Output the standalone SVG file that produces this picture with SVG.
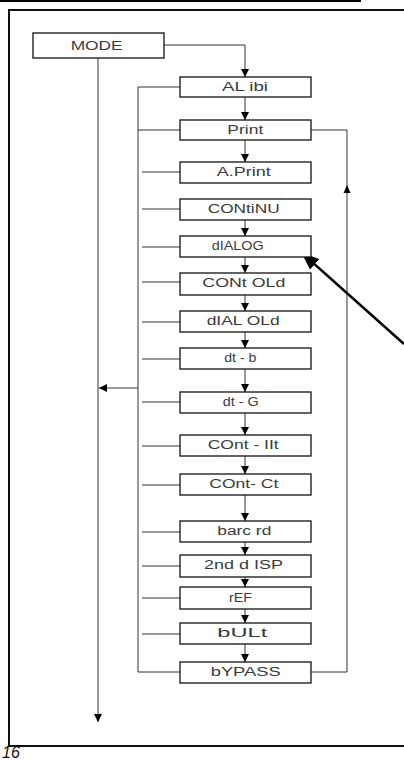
<svg xmlns="http://www.w3.org/2000/svg" width="404" height="760" viewBox="0 0 404 760">
<defs>
<marker id="ah" markerUnits="userSpaceOnUse" markerWidth="8" markerHeight="8" refX="8" refY="4" orient="auto">
<path d="M0,0 L8,4 L0,8 z" fill="#000"/>
</marker>
<marker id="big" markerUnits="userSpaceOnUse" markerWidth="18" markerHeight="14" refX="17" refY="7" orient="auto">
<path d="M0,0 L18,7 L0,14 z" fill="#000"/>
</marker>
</defs>
<style>
.box{fill:#fff;stroke:#111;stroke-width:1.3}
.t{font-family:"Liberation Sans",Arial,sans-serif;font-size:12.5px;fill:#3a3a3a}
.s{font-size:12px}
.c{fill:none;stroke:#333;stroke-width:1}
.frame{fill:none;stroke:#111;stroke-width:2}
</style>
<rect width="404" height="760" fill="#fff"/>
<!-- frame -->
<line x1="0" y1="1" x2="361" y2="1" stroke="#000" stroke-width="2"/>
<path class="frame" d="M404,10 H9 V746 H404"/>
<text x="2" y="758" font-family="'Liberation Sans',Arial,sans-serif" font-size="16" font-style="italic" fill="#111">16</text>

<g id="connectors">
<path class="c" d="M164,45 H245 V77" marker-end="url(#ah)"/>
<path class="c" d="M98,58 V722" marker-end="url(#ah)"/>
<path class="c" d="M180,87 H138 V672 H180"/>
<path class="c" d="M180,130 H138"/>
<path class="c" d="M138,388 H99" marker-end="url(#ah)"/>
<path class="c" d="M311,130 H347 V672 H311"/>
<path d="M343.5,193 L347,185 L350.5,193 z" fill="#000"/>
<path class="c" d="M142,172 H180 M142,209 H180 M142,247 H180 M142,282 H180 M142,322 H180 M142,359 H180 M142,402 H180 M142,446 H180 M142,485 H180 M142,532 H180 M142,566 H180 M142,598 H180 M142,634 H180"/>
<path class="c" d="M245,97 V120" marker-end="url(#ah)"/>
<path class="c" d="M245,140 V162" marker-end="url(#ah)"/>
<path class="c" d="M245,220 V236" marker-end="url(#ah)"/>
<path class="c" d="M245,257 V273" marker-end="url(#ah)"/>
<path class="c" d="M245,295 V311" marker-end="url(#ah)"/>
<path class="c" d="M245,332 V348" marker-end="url(#ah)"/>
<path class="c" d="M245,369 V392" marker-end="url(#ah)"/>
<path class="c" d="M245,413 V435" marker-end="url(#ah)"/>
<path class="c" d="M245,456 V474" marker-end="url(#ah)"/>
<path class="c" d="M245,495 V521" marker-end="url(#ah)"/>
<path class="c" d="M245,542 V555" marker-end="url(#ah)"/>
<path class="c" d="M245,577 V587" marker-end="url(#ah)"/>
<path class="c" d="M245,609 V623" marker-end="url(#ah)"/>
<path class="c" d="M245,644 V662" marker-end="url(#ah)"/>
<line x1="404" y1="344" x2="302" y2="253" stroke="#000" stroke-width="2.5" marker-end="url(#big)"/>
</g>

<g id="mode"><rect class="box" x="33" y="33" width="131" height="25"/><text class="t" x="70.7" y="50" textLength="52" lengthAdjust="spacingAndGlyphs">MODE</text></g>
<g id="alibi"><rect class="box" x="180" y="77" width="131" height="20"/><text class="t" x="222" y="91" textLength="46" lengthAdjust="spacingAndGlyphs">AL ibi</text></g>
<g id="print"><rect class="box" x="180" y="120" width="131" height="20"/><text class="t" x="227.3" y="134" textLength="36" lengthAdjust="spacingAndGlyphs">Print</text></g>
<g id="aprint"><rect class="box" x="180" y="162" width="131" height="21"/><text class="t" x="216.7" y="176" textLength="54" lengthAdjust="spacingAndGlyphs">A.Print</text></g>
<g id="continu"><rect class="box" x="180" y="199" width="131" height="21"/><text class="t" x="207.7" y="213" textLength="72" lengthAdjust="spacingAndGlyphs">CONtiNU</text></g>
<g id="dialog"><rect class="box" x="180" y="236" width="131" height="21"/><text class="t" x="211.7" y="250" textLength="52" lengthAdjust="spacingAndGlyphs">dIALOG</text></g>
<g id="contold"><rect class="box" x="180" y="273" width="131" height="22"/><text class="t" x="202.3" y="287" textLength="83" lengthAdjust="spacingAndGlyphs">CONt OLd</text></g>
<g id="dialold"><rect class="box" x="180" y="311" width="131" height="21"/><text class="t" x="206.7" y="325" textLength="73" lengthAdjust="spacingAndGlyphs">dIAL OLd</text></g>
<g id="dtb"><rect class="box" x="180" y="348" width="131" height="21"/><text class="t s" x="224.3" y="362" textLength="32" lengthAdjust="spacingAndGlyphs">dt - b</text></g>
<g id="dtg"><rect class="box" x="180" y="392" width="131" height="21"/><text class="t s" x="222.7" y="406" textLength="36" lengthAdjust="spacingAndGlyphs">dt - G</text></g>
<g id="contiit"><rect class="box" x="180" y="435" width="131" height="21"/><text class="t" x="207.7" y="449" textLength="71" lengthAdjust="spacingAndGlyphs">COnt - IIt</text></g>
<g id="contct"><rect class="box" x="180" y="474" width="131" height="21"/><text class="t" x="209.3" y="488" textLength="69" lengthAdjust="spacingAndGlyphs">COnt- Ct</text></g>
<g id="barcrd"><rect class="box" x="180" y="521" width="131" height="21"/><text class="t" x="217.3" y="535" textLength="54" lengthAdjust="spacingAndGlyphs">barc rd</text></g>
<g id="2nddisp"><rect class="box" x="180" y="555" width="131" height="22"/><text class="t" x="204" y="569" textLength="79" lengthAdjust="spacingAndGlyphs">2nd d ISP</text></g>
<g id="ref"><rect class="box" x="180" y="587" width="131" height="22"/><text class="t s" x="229" y="602" textLength="23" lengthAdjust="spacingAndGlyphs">rEF</text></g>
<g id="bult"><rect class="box" x="180" y="623" width="131" height="21"/><text class="t" x="217.3" y="637" textLength="50" lengthAdjust="spacingAndGlyphs">bULt</text></g>
<g id="bypass"><rect class="box" x="180" y="662" width="131" height="21"/><text class="t" x="210.7" y="676" textLength="70" lengthAdjust="spacingAndGlyphs">bYPASS</text></g>
</svg>
